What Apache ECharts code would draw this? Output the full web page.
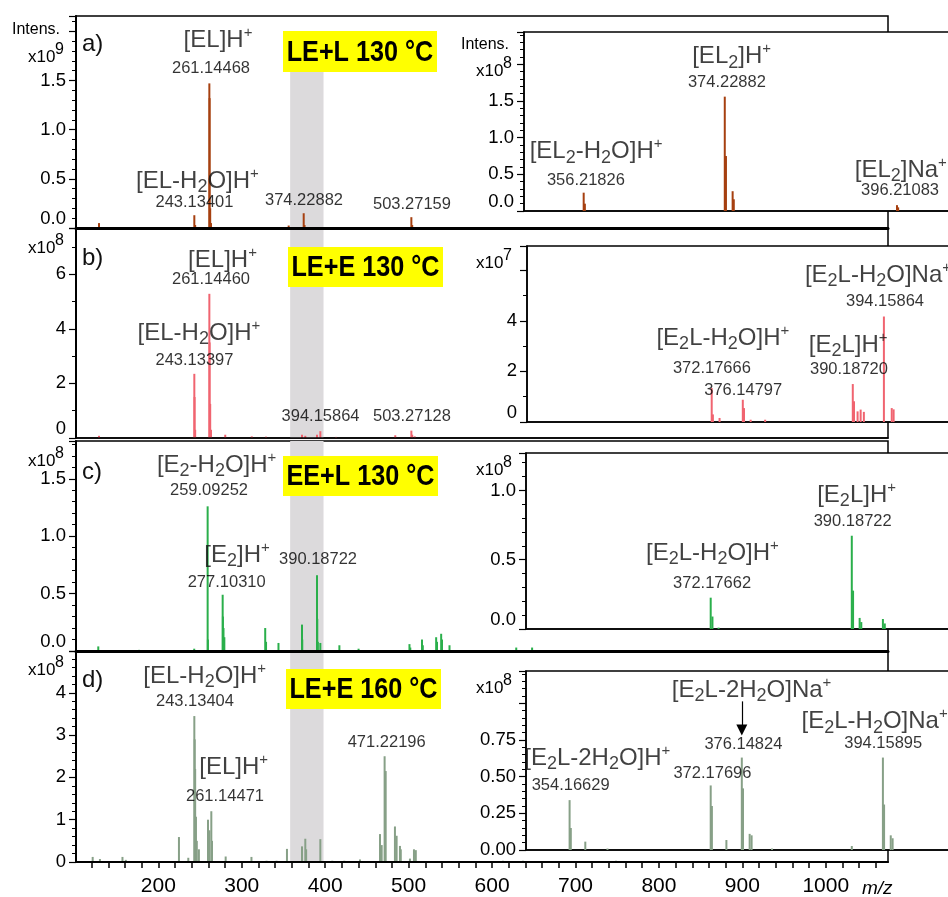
<!DOCTYPE html>
<html><head><meta charset="utf-8">
<script src="https://cdn.jsdelivr.net/npm/echarts@6/dist/echarts.min.js"></script>
<style>html,body{margin:0;padding:0;background:#fff;overflow:hidden;width:948px;height:897px}#c{width:1012px;height:897px}</style>
</head><body><div id="c"></div>
<script>
// ---------------- DATA ----------------
// main spectra (m/z, intensity in displayed units)
const mzA  = [128.9, 243.13, 244.14, 261.14, 261.45, 262.15, 263.15, 356.22, 374.23, 375.23, 503.27, 504.28];
const intA = [0.05, 0.13, 0.03, 1.47, 1.32, 0.20, 0.05, 0.025, 0.15, 0.03, 0.11, 0.03]; // x10^9
const mzB  = [128.9, 243.13, 243.45, 244.14, 261.14, 261.45, 262.15, 263.15, 280.2, 312, 329, 372.18, 376.15, 390.19, 394.16, 413, 484, 503.27, 504.28, 507.3];
const intB = [0.08, 2.35, 1.5, 0.3, 5.28, 3.5, 1.25, 0.3, 0.12, 0.06, 0.05, 0.12, 0.08, 0.12, 0.25, 0.04, 0.1, 0.27, 0.12, 0.06]; // x10^8
const mzC  = [128, 177, 243, 259.09, 259.4, 277.10, 277.4, 278.1, 279.1, 328.1, 329.1, 344, 372.18, 372.5, 390.19, 390.5, 391.19, 394.16, 417, 440, 501, 502, 516, 517, 533, 534, 539, 540, 549, 629, 648];
const intC = [0.04, 0.01, 0.02, 1.26, 0.1, 0.49, 0.3, 0.2, 0.12, 0.2, 0.08, 0.07, 0.23, 0.1, 0.66, 0.28, 0.08, 0.07, 0.05, 0.02, 0.06, 0.03, 0.1, 0.05, 0.12, 0.08, 0.15, 0.1, 0.05, 0.03, 0.03]; // x10^8
const mzD  = [121.3, 130, 157, 161, 224.7, 235.9, 243.13, 243.6, 244.14, 245.1, 246.1, 248.6, 259.5, 261.15, 263.5, 264.3, 280.7, 311.6, 329.7, 341.7, 354.17, 372.18, 376.15, 377.15, 394.16, 408.5, 422.9, 441.7, 465.7, 467.7, 471.22, 472.5, 483.6, 485.6, 489.6, 490.6, 501.6, 506.4, 508.6, 613, 637, 748.6];
const intD = [0.12, 0.07, 0.12, 0.05, 0.59, 0.1, 3.45, 2.9, 2.2, 1.07, 0.5, 0.3, 1.0, 0.75, 1.2, 0.5, 0.13, 0.12, 0.03, 0.03, 0.31, 0.37, 0.55, 0.3, 0.54, 0.03, 0.03, 0.06, 0.66, 0.4, 2.5, 2.15, 0.84, 0.62, 0.38, 0.3, 0.08, 0.3, 0.28, 0.03, 0.03, 0.03]; // x10^8

// inset spectra
const mzIA  = [356.218, 356.37, 374.229, 374.38, 375.232, 375.38, 396.211, 396.36];
const intIA = [0.25, 0.10, 1.56, 0.75, 0.27, 0.16, 0.08, 0.05]; // x10^8
const mzIB  = [372.177, 372.33, 373.18, 376.148, 376.3, 377.15, 379.0, 390.187, 390.34, 390.8, 391.19, 391.6, 394.159, 395.16, 395.4];
const intIB = [1.34, 0.3, 0.16, 0.88, 0.55, 0.09, 0.09, 1.5, 0.82, 0.42, 0.49, 0.4, 4.17, 0.55, 0.5]; // x10^7
const mzIC  = [372.177, 372.4, 373.18, 390.187, 390.35, 391.19, 391.4, 394.16, 394.4];
const intIC = [0.226, 0.09, 0.01, 0.673, 0.277, 0.08, 0.05, 0.072, 0.04]; // x10^8
const mzID  = [354.166, 354.32, 356.17, 359.0, 372.177, 372.33, 374.18, 376.148, 376.3, 377.15, 377.4, 380.0, 390.19, 394.159, 394.31, 395.16, 395.4];
const intID = [0.34, 0.15, 0.057, 0.01, 0.44, 0.3, 0.068, 0.63, 0.42, 0.11, 0.1, 0.01, 0.027, 0.63, 0.31, 0.1, 0.08]; // x10^8

// annotations: [m/z, intensity level, text]
const annA = [[271.5,1.91,'[EL]H^+'],[263.1,1.623,'261.14468'],[246.9,0.478,'[EL-H_2O]H^+'],[243.3,0.257,'243.13401'],[374.6,0.285,'374.22882'],[504.0,0.244,'503.27159']];
const annB = [[276.9,6.50,'[EL]H^+'],[263.1,5.79,'261.14460'],[248.7,3.835,'[EL-H_2O]H^+'],[243.3,2.857,'243.13397'],[394.4,0.78,'394.15864'],[504.0,0.78,'503.27128']];
const annC = [[269.9,1.62,'[E_2-H_2O]H^+'],[260.7,1.402,'259.09252'],[294.3,0.836,'[E_2]H^+'],[281.9,0.595,'277.10310'],[391.4,0.793,'390.18722']];
const annD = [[255.6,4.386,'[EL-H_2O]H^+'],[243.9,3.80,'243.13404'],[290.3,2.241,'[EL]H^+'],[279.9,1.539,'261.14471'],[473.7,2.827,'471.22196']];
const annIA = [[375.1,2.105,'[EL_2]H^+'],[374.5,1.75,'374.22882'],[357.8,0.809,'[EL_2-H_2O]H^+'],[356.5,0.423,'356.21826'],[396.7,0.559,'[EL_2]Na^+'],[396.6,0.277,'396.21083']];
const annIB = [[393.4,5.81,'[E_2L-H_2O]Na^+'],[394.3,4.755,'394.15864'],[373.6,3.308,'[E_2L-H_2O]H^+'],[372.2,2.12,'372.17666'],[376.2,1.265,'376.14797'],[389.6,3.04,'[E_2L]H^+'],[389.7,2.083,'390.18720']];
const annIC = [[390.8,0.967,'[E_2L]H^+'],[390.3,0.774,'390.18722'],[372.4,0.546,'[E_2L-H_2O]H^+'],[372.35,0.33,'372.17662']];
const annID = [[377.4,1.091,'[E_2L-2H_2O]Na^+'],[376.35,0.716,'376.14824'],[393.1,0.875,'[E_2L-H_2O]Na^+'],[394.2,0.723,'394.15895'],[357.7,0.625,'[E_2L-2H_2O]H^+'],[354.3,0.443,'354.16629'],[372.4,0.523,'372.17696']];
const arrowID = [376.15, 1.013, 0.818]; // m/z, from, to

// axes
const mainRange = [101.3, 1074.6];
const insetRange = [348.6, 410];
const bandRange = [358, 398];
const xTickValues = [120,140,160,180,200,220,240,260,280,300,320,340,360,380,400,420,440,460,480,500,520,540,560,580,600,620,640,660,680,700,720,740,760,780,800,820,840,860,880,900,920,940,960,980,1000,1020,1040,1060];
const xLabelValues = [200,300,400,500,600,700,800,900,1000];
const mainYMax = [2.155, 7.69, 1.829, 4.988];
const mainYStep = [0.5, 2, 0.5, 1];
const mainYMinor = [5, 2, 5, 5];
const mainYLabelMax = [1.5, 6, 1.5, 4];
const mainYDec = [1, 0, 1, 0];
const insetYMax = [2.442, 6.957, 1.27, 1.22];
const insetYStep = [0.5, 2, 0.5, 0.25];
const insetYMinor = [5, 2, 5, 5];
const insetYLabelMax = [1.5, 4, 1.0, 0.75];
const insetYDec = [1, 0, 1, 2];
const exponents = ['9', '8', '8', '8'];
const insetExponents = ['8', '7', '8', '8'];
const panelTitles = ['LE+L 130 °C', 'LE+E 130 °C', 'EE+L 130 °C', 'LE+E 160 °C'];
const panelLetters = ['a)', 'b)', 'c)', 'd)'];

// ---------------- LAYOUT / STYLE ----------------
const FONT = "'Liberation Sans', Arial, sans-serif";
const TXT = '#000';
const colors = ['#a64010', '#f06470', '#2aaf4b', '#87a087'];
const mainGrids = [{top:16,h:212},{top:228,h:210},{top:441,h:210},{top:651,h:213}];
const insetGrids = [{left:524,top:32,h:179},{left:527,top:246,h:176},{left:526,top:453,h:176},{left:526,top:671,h:179}];
const insetWidth = 481;
const boxes = [{x:283,y:31,w:154,h:41},{x:288,y:247,w:155,h:40},{x:283,y:456,w:155,h:40},{x:286,y:669,w:155,h:40}];
const letterY = [44, 258, 472, 680];
const expY = [57, 248, 461, 670];
const insetExpY = [71, 263, 470, 688];

function ionRich(s){
  if (/^[\d.]+$/.test(s)) return '{m|' + s + '}';
  let out = '', buf = '';
  for (let i = 0; i < s.length; i++) {
    const c = s[i];
    if (c === '_' || c === '^') {
      if (buf) { out += '{n|' + buf + '}'; buf = ''; }
      out += (c === '_' ? '{b|' : '{p|') + s[i+1] + '}';
      i++;
    } else buf += c;
  }
  if (buf) out += '{n|' + buf + '}';
  return out;
}
const rich = {
  n: {fontFamily: FONT, fontSize: 24, color: '#111', lineHeight: 30, verticalAlign: 'middle'},
  b: {fontFamily: FONT, fontSize: 18, color: '#111', lineHeight: 18, verticalAlign: 'bottom'},
  p: {fontFamily: FONT, fontSize: 15, color: '#111', lineHeight: 16, verticalAlign: 'top'},
  m: {fontFamily: FONT, fontSize: 16.5, color: TXT, lineHeight: 20}
};

const grid = [], xAxis = [], yAxis = [], series = [];
mainGrids.forEach((g) => {
  grid.push({left: 76, top: g.top, width: 812, height: g.h, show: true, borderColor: '#000', borderWidth: 1.5, backgroundColor: 'transparent', z: 0});
});
insetGrids.forEach((g) => {
  grid.push({left: g.left, top: g.top, width: insetWidth, height: g.h, show: true, borderColor: '#000', borderWidth: 1.5, backgroundColor: '#fff', z: 1});
});

// main x axes
[0,1,2,3].forEach(i => {
  const last = i === 3;
  xAxis.push({
    type: 'value', gridIndex: i, min: mainRange[0], max: mainRange[1], z: 5,
    splitLine: {show: false},
    axisLine: {show: true, onZero: false, lineStyle: {color: '#000', width: i === 1 ? 1.5 : (last ? 2 : 3)}},
    axisTick: last ? {show: true, customValues: xTickValues, length: 6, lineStyle: {color: '#000', width: 1.5}} : {show: false},
    axisLabel: last ? {show: true, customValues: xLabelValues, fontFamily: FONT, fontSize: 21, color: TXT, margin: 14,
      formatter: v => String(Math.round(v))} : {show: false}
  });
});
[0,1,2,3].forEach(i => {
  xAxis.push({
    type: 'value', gridIndex: 4 + i, min: insetRange[0], max: insetRange[1], z: 3,
    splitLine: {show: false},
    axisLine: {show: true, onZero: false, lineStyle: {color: '#000', width: 1.5}},
    axisTick: {show: false}, axisLabel: {show: false}
  });
});
function yAx(gi, max, step, minor, lmax, dec, lw, shiftMin, z) {
  return {
    type: 'value', gridIndex: gi, min: 0, max: max, interval: step, z: z,
    splitLine: {show: false},
    axisLine: {show: true, onZero: false, lineStyle: {color: '#000', width: lw}},
    axisTick: {show: true, length: 7, lineStyle: {color: '#000', width: 1.2}},
    minorTick: {show: true, splitNumber: minor, length: 4, lineStyle: {color: '#000', width: 1}},
    axisLabel: {
      show: true, fontFamily: FONT, fontSize: 18.5, color: TXT, margin: 10,
      showMaxLabel: true,
      verticalAlignMinLabel: shiftMin ? 'bottom' : 'middle',
      formatter: v => (v > lmax + 1e-9) ? '' : v.toFixed(dec)
    }
  };
}
[0,1,2,3].forEach(i => yAxis.push(yAx(i, mainYMax[i], mainYStep[i], mainYMinor[i], mainYLabelMax[i], mainYDec[i], 2, i !== 3, 5)));
[0,1,2,3].forEach(i => yAxis.push(yAx(4 + i, insetYMax[i], insetYStep[i], insetYMinor[i], insetYLabelMax[i], insetYDec[i], 1.5, i !== 3, 3)));

const mainMz = [mzA, mzB, mzC, mzD], mainInt = [intA, intB, intC, intD];
const insMz = [mzIA, mzIB, mzIC, mzID], insInt = [intIA, intIB, intIC, intID];
const mainAnn = [annA, annB, annC, annD], insAnn = [annIA, annIB, annIC, annID];

function zip(a, b) { return a.map((v, k) => [v, b[k]]); }

[0,1,2,3].forEach(i => {
  series.push({
    type: 'bar', xAxisIndex: i, yAxisIndex: i, barWidth: 2, z: 2, silent: true,
    itemStyle: {color: colors[i]},
    data: zip(mainMz[i], mainInt[i]),
    markArea: {
      silent: true, itemStyle: {color: '#dcdadc', opacity: 1}, label: {show: false},
      data: [ i === 0 ? [{xAxis: bandRange[0], yAxis: 0}, {xAxis: bandRange[1], yAxis: 1.6}]
                      : [{xAxis: bandRange[0]}, {xAxis: bandRange[1]}] ]
    }
  });
});
[0,1,2,3].forEach(i => {
  series.push({
    type: 'bar', xAxisIndex: 4 + i, yAxisIndex: 4 + i, barWidth: 2, z: 4, silent: true,
    itemStyle: {color: colors[i]},
    data: zip(insMz[i], insInt[i])
  });
});
function annSeries(ax, list, z, extra) {
  const s = {
    type: 'scatter', xAxisIndex: ax, yAxisIndex: ax, symbolSize: 1, z: z, silent: true, clip: false,
    itemStyle: {color: 'rgba(0,0,0,0)'},
    label: {show: true, position: 'inside', align: 'center', verticalAlign: 'middle',
      formatter: p => ionRich(p.data[2]), rich: rich},
    data: list.map(a => [a[0], a[1], a[2]])
  };
  return Object.assign(s, extra || {});
}
[0,1,2,3].forEach(i => series.push(annSeries(i, mainAnn[i], 6)));
[0,1,2,3].forEach(i => {
  const extra = i === 3 ? {markLine: {
    silent: true, symbol: ['none', 'triangle'], symbolSize: [11, 11],
    lineStyle: {color: '#000', width: 1.2, type: 'solid'}, label: {show: false},
    data: [[{coord: [arrowID[0], arrowID[1]]}, {coord: [arrowID[0], arrowID[2]]}]]
  }} : null;
  series.push(annSeries(4 + i, insAnn[i], 7, extra));
});

// graphic texts
const graphic = [];
boxes.forEach((b, i) => {
  graphic.push({type: 'rect', z: 100, shape: {x: b.x, y: b.y, width: b.w, height: b.h}, style: {fill: '#ffff00'}});
  graphic.push({type: 'text', z: 101, x: b.x + b.w / 2, y: b.y + b.h / 2 + 1, scaleX: 0.84,
    style: {text: panelTitles[i], font: "bold 30px 'Liberation Sans', sans-serif", fill: '#000',
      align: 'center', verticalAlign: 'middle', textAlign: 'center', textVerticalAlign: 'middle'}});
});
panelLetters.forEach((t, i) => {
  graphic.push({type: 'text', z: 101, x: 82, y: letterY[i],
    style: {text: t, font: '24px ' + FONT, fill: '#111', align: 'left', verticalAlign: 'middle', textAlign: 'left', textVerticalAlign: 'middle'}});
});
function expo(x, y, e) {
  graphic.push({type: 'text', z: 101, x: x, y: y,
    style: {text: 'x10', font: '17px ' + FONT, fill: TXT, align: 'left', verticalAlign: 'middle', textAlign: 'left', textVerticalAlign: 'middle'}});
  graphic.push({type: 'text', z: 101, x: x + 27, y: y - 7,
    style: {text: e, font: '16px ' + FONT, fill: TXT, align: 'left', verticalAlign: 'middle', textAlign: 'left', textVerticalAlign: 'middle'}});
}
exponents.forEach((e, i) => expo(28, expY[i], e));
insetExponents.forEach((e, i) => expo(476, insetExpY[i], e));
graphic.push({type: 'text', z: 101, x: 12, y: 30,
  style: {text: 'Intens.', font: '16px ' + FONT, fill: TXT, align: 'left', verticalAlign: 'middle', textAlign: 'left', textVerticalAlign: 'middle'}});
graphic.push({type: 'text', z: 101, x: 461, y: 45,
  style: {text: 'Intens.', font: '16px ' + FONT, fill: TXT, align: 'left', verticalAlign: 'middle', textAlign: 'left', textVerticalAlign: 'middle'}});
graphic.push({type: 'text', z: 101, x: 862, y: 889,
  style: {text: 'm/z', font: 'italic 19px ' + FONT, fill: TXT, align: 'left', verticalAlign: 'middle', textAlign: 'left', textVerticalAlign: 'middle'}});

const chart = echarts.init(document.getElementById('c'), null, {renderer: 'canvas'});
chart.setOption({
  animation: false,
  backgroundColor: '#fff',
  grid, xAxis, yAxis, series, graphic
});
</script>
</body></html>
